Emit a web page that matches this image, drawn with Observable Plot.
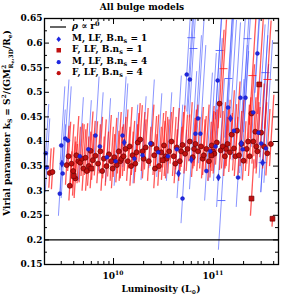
<!DOCTYPE html>
<html><head><meta charset="utf-8">
<script src="https://cdn.jsdelivr.net/npm/d3@7"></script>
<script src="https://cdn.jsdelivr.net/npm/@observablehq/plot@0.6"></script>
<style>
body{margin:0;background:#fff;}
#wrap{position:relative;width:283px;height:296px;font-family:"DejaVu Serif",serif;font-weight:bold;}
#legend{position:absolute;left:47px;top:21px;font-size:9px;line-height:11.6px;color:#000;}
#legend .row{position:relative;height:11.6px;white-space:nowrap;}
#legend .sym{position:absolute;left:0;top:0;width:22px;height:11.6px;}
#legend .txt{position:absolute;left:25px;top:0;}
#legend sub{font-size:6.5px;vertical-align:-1.5px;line-height:0;}
#legend sup{font-size:6.5px;vertical-align:3px;line-height:0;}
</style></head><body><div id="wrap"></div>
<script>
// Luminosity in units of 1e9 L_sun, virial parameter k, lower extent, upper extent
const redN4 = [
[2.3,0.336,0.03,0.05],[2.45,0.338,0.035,0.05],
[3.4,0.352,0.04,0.08],[3.55,0.37,0.03,0.07],[3.65,0.31,0.03,0.07],[3.8,0.355,0.045,0.08],[3.95,0.34,0.035,0.07],[4.15,0.325,0.04,0.07],[4.25,0.372,0.04,0.08],[4.45,0.36,0.045,0.07],[4.65,0.357,0.04,0.08],[4.85,0.365,0.035,0.07],[5.0,0.345,0.045,0.08],[5.25,0.367,0.035,0.07],[5.4,0.34,0.04,0.07],[5.65,0.35,0.04,0.07],[5.9,0.381,0.045,0.08],[6.2,0.362,0.04,0.08],[6.6,0.371,0.04,0.07],[7.0,0.355,0.04,0.08],[7.4,0.38,0.045,0.07],[7.7,0.34,0.04,0.07],
[8.0,0.365,0.04,0.08],[8.5,0.35,0.04,0.07],[9.0,0.374,0.045,0.08],[9.5,0.36,0.04,0.07],[9.8,0.345,0.04,0.07],[10.2,0.368,0.04,0.08],[10.8,0.352,0.035,0.07],[11.3,0.38,0.045,0.08],[11.7,0.36,0.04,0.07],[12.0,0.365,0.04,0.07],[12.6,0.37,0.04,0.08],[13.2,0.385,0.045,0.08],[13.9,0.36,0.04,0.07],[14.5,0.39,0.045,0.08],[15.0,0.35,0.04,0.07],[15.5,0.372,0.04,0.07],[16.5,0.355,0.04,0.08],[17.0,0.378,0.04,0.08],[17.5,0.398,0.045,0.08],[18.5,0.404,0.045,0.07],[19.5,0.38,0.04,0.08],
[20,0.365,0.04,0.08],[21,0.388,0.045,0.08],[22.5,0.36,0.04,0.07],[24,0.395,0.045,0.08],[25.5,0.372,0.04,0.08],[26,0.345,0.04,0.07],[27,0.385,0.045,0.07],[28.5,0.35,0.04,0.08],[30,0.378,0.04,0.08],[32,0.392,0.045,0.07],[33,0.37,0.04,0.08],[34,0.365,0.04,0.08],[36,0.38,0.045,0.08],[38,0.4,0.045,0.07],[40,0.37,0.04,0.08],[41.5,0.355,0.04,0.07],[43,0.388,0.045,0.08],[46,0.36,0.04,0.07],[47.5,0.38,0.04,0.08],[49,0.393,0.045,0.08],[52,0.375,0.04,0.08],[55,0.385,0.045,0.07],[58,0.4,0.04,0.08],
[62,0.368,0.04,0.08],[64,0.385,0.04,0.08],[66,0.395,0.045,0.08],[70,0.38,0.04,0.07],[75,0.39,0.045,0.08],[78,0.365,0.04,0.08],[80,0.372,0.04,0.08],[85,0.385,0.045,0.09],[90,0.36,0.04,0.08],[96,0.392,0.045,0.08],[99,0.38,0.04,0.08],[102,0.375,0.04,0.09],[108,0.398,0.045,0.08],[115,0.477,0.05,0.15],[118,0.382,0.04,0.08],[124,0.39,0.045,0.09],[130,0.37,0.04,0.08],[134,0.385,0.04,0.08],[138,0.395,0.045,0.09],[146,0.378,0.04,0.08],[152,0.414,0.05,0.09],[160,0.386,0.045,0.09],[166,0.37,0.04,0.08],[172,0.422,0.05,0.1],[180,0.372,0.04,0.09],[190,0.395,0.045,0.09],[200,0.361,0.04,0.08],
[215,0.385,0.045,0.09],[222,0.4,0.045,0.09],[230,0.37,0.04,0.09],[240,0.457,0.05,0.1],[250,0.4,0.045,0.09],[262,0.42,0.05,0.1],[268,0.39,0.045,0.09],[275,0.38,0.045,0.09],[300,0.418,0.05,0.1],[320,0.39,0.045,0.09],[345,0.376,0.045,0.09],[375,0.395,0.045,0.1]
];
const redN1 = [
[287,0.516,0.06,0.16],[240,0.284,0.035,0.08],[389,0.243,0.016,0.006],[4.0,0.33,0.04,0.07],[6.0,0.345,0.04,0.07],[31,0.362,0.04,0.08],[95,0.372,0.045,0.09]
];
const blueN4 = [
[2.1,0.376,0.05,0.1],[2.15,0.347,0.05,0.1],[2.9,0.294,0.045,0.1],[3.0,0.392,0.05,0.12],[3.1,0.335,0.05,0.1],[3.3,0.406,0.05,0.12],[3.5,0.402,0.05,0.11],
[4.6,0.37,0.05,0.12],[5.6,0.384,0.05,0.1],[6.6,0.412,0.05,0.12],[7.3,0.39,0.05,0.11],[8.6,0.368,0.05,0.12],[10.5,0.36,0.05,0.1],[12.3,0.412,0.05,0.12],[16.2,0.365,0.05,0.11],[19.5,0.372,0.05,0.12],[23.4,0.396,0.05,0.13],[28,0.378,0.05,0.12],[35,0.37,0.05,0.13],[43,0.384,0.05,0.15],[49,0.284,0.05,0.14],[54,0.536,0.07,0.2],[58,0.526,0.07,0.2],[66,0.416,0.06,0.2],[70,0.447,0.06,0.22],[74,0.416,0.06,0.18],[85,0.34,0.06,0.2],[93,0.38,0.06,0.2],[105,0.39,0.07,0.22],[110,0.524,0.07,0.2],[140,0.469,0.07,0.25],[160,0.422,0.06,0.22],[176,0.327,0.06,0.2],[186,0.489,0.07,0.22],[196,0.384,0.06,0.2],[209,0.489,0.07,0.22],[250,0.459,0.07,0.25],[275,0.579,0.08,0.2],[282,0.418,0.07,0.22],[300,0.396,0.07,0.22],[335,0.386,0.07,0.22]
];
const blueN1 = [
[3.05,0.355,0.06,0.11],[12.8,0.398,0.05,0.12],[44.7,0.335,0.05,0.14],[60,0.363,0.06,0.18],[112,0.327,0.06,0.2],[148,0.447,0.06,0.2],[190,0.396,0.06,0.2],[310,0.357,0.06,0.2]
];
// error bars whose points carry a horizontal cross bar
const blueCross = [
[60,0.611,0.15,0.1],[63,0.589,0.14,0.1],[115,0.585,0.14,0.1],[141,0.528,0.12,0.15],[219,0.609,0.15,0.1],[331,0.54,0.12,0.15],[120,0.28,0.1,0.4],[310,0.357,0.06,0.2]
];
const redCross = [[126,0.548,0.1,0.1],[245,0.534,0.1,0.12],[347,0.526,0.1,0.12]];

const yMajor = [0.15,0.2,0.25,0.3,0.35,0.4,0.45,0.5,0.55,0.6,0.65];
const yMinor = [0.175,0.225,0.275,0.325,0.375,0.425,0.475,0.525,0.575,0.625];
const xMajor = [1e10,1e11];
const xMinor = [3e9,4e9,5e9,6e9,7e9,8e9,9e9,2e10,3e10,4e10,5e10,6e10,7e10,8e10,9e10,2e11,3e11,4e11];
const xTickBase = ["10","10"], xTickExp = ["10","11"];
const xDomain = [2.04e9,4.47e11], yDomain = [0.15,0.65];

const T = 0.3;      // tilt of correlated error bars (decades per unit k)
const XW = 0.04;    // half width of cross bars (decades)
const PX = 0.01, PY = 0.5/246; // one pixel in data units
const seg = a => a.map(([L,k,lo,hi]) => ({x1:L*1e9/10**(T*lo), y1:k-lo, x2:L*1e9*10**(T*hi), y2:k+hi}));
const pt = a => a.map(([L,k]) => ({x:L*1e9, y:k}));
const cross = a => a.map(([L,k]) => ({x1:L*1e9/10**XW, x2:L*1e9*10**XW, y:k}));

const blueBar = "#3b4cff", redBar = "#ff1010";
const plot = Plot.plot({
  width:283, height:296, marginTop:18, marginBottom:32, marginLeft:44, marginRight:5,
  x:{type:"log", domain:xDomain, label:null, axis:null},
  y:{domain:yDomain, label:null},
  style:{fontFamily:"DejaVu Serif", fontWeight:"bold", fontSize:"9px", background:"white"},
  marks:[
    Plot.link(seg([...blueN4,...blueN1,...blueCross]), {x1:"x1",y1:"y1",x2:"x2",y2:"y2", stroke:blueBar, strokeOpacity:0.6, strokeWidth:1, clip:true}),
    Plot.link(cross(blueCross), {x1:"x1",x2:"x2",y1:"y",y2:"y", stroke:blueBar, strokeOpacity:0.8, strokeWidth:1, clip:true}),
    Plot.link(seg([...redN4,...redN1,...redCross]), {x1:"x1",y1:"y1",x2:"x2",y2:"y2", stroke:redBar, strokeOpacity:0.7, strokeWidth:1.3, clip:true}),
    Plot.link(cross(redCross), {x1:"x1",x2:"x2",y1:"y",y2:"y", stroke:redBar, strokeOpacity:0.8, strokeWidth:1, clip:true}),
    Plot.ruleY([0.2], {stroke:"black", strokeWidth:1.2}),
    Plot.dot(pt(redN4), {x:"x", y:"y", r:2.5, fill:"#c01010", stroke:"#6a0000", strokeWidth:0.7}),
    Plot.dot(pt(redN1), {x:"x", y:"y", r:2.7, symbol:"square", fill:"#c01010", stroke:"#6a0000", strokeWidth:0.7}),
    Plot.dot(pt(blueN4), {x:"x", y:"y", r:2.0, fill:"#1f28e0", stroke:"#1010b0", strokeWidth:0.4}),
    Plot.dot(pt(blueN1), {x:"x", y:"y", r:2.2, symbol:"diamond", fill:"#1f28e0", stroke:"#1010b0", strokeWidth:0.4}),
    // inward ticks on all four sides
    Plot.ruleX(xMajor, {y1:yDomain[0], y2:yDomain[0]+6*PY, stroke:"black"}),
    Plot.ruleX(xMajor, {y1:yDomain[1], y2:yDomain[1]-6*PY, stroke:"black"}),
    Plot.ruleX(xMinor, {y1:yDomain[0], y2:yDomain[0]+3*PY, stroke:"black"}),
    Plot.ruleX(xMinor, {y1:yDomain[1], y2:yDomain[1]-3*PY, stroke:"black"}),
    Plot.ruleY(yMajor, {x1:xDomain[0], x2:xDomain[0]*10**(5*PX), stroke:"black"}),
    Plot.ruleY(yMajor, {x1:xDomain[1], x2:xDomain[1]/10**(5*PX), stroke:"black"}),
    Plot.ruleY(yMinor, {x1:xDomain[0], x2:xDomain[0]*10**(3*PX), stroke:"black"}),
    Plot.ruleY(yMinor, {x1:xDomain[1], x2:xDomain[1]/10**(3*PX), stroke:"black"}),
    Plot.frame({stroke:"black", strokeWidth:1.3}),
    Plot.axisY({ticks:yMajor, tickSize:0, tickPadding:2, tickFormat:d => String(+d.toFixed(2)), label:null})
  ]
});
const wrap = document.getElementById("wrap");
wrap.appendChild(plot);
const svg = d3.select(plot);
const xs = plot.scale("x");
xMajor.forEach((v, i) => {
  const t = svg.append("text").attr("x", xs.apply(v)).attr("y", 279).attr("text-anchor","middle")
    .attr("font-size", 9).attr("font-weight","bold");
  t.append("tspan").text(xTickBase[i]);
  t.append("tspan").attr("font-size", 6).attr("dy", -4).text(xTickExp[i]);
});
svg.append("text").attr("x",142).attr("y",10).attr("text-anchor","middle")
  .attr("font-size",9).attr("font-weight","bold").text("All bulge models");
const xl = svg.append("text").attr("x",161).attr("y",292).attr("text-anchor","middle")
  .attr("font-size",9).attr("font-weight","bold");
xl.append("tspan").text("Luminosity (L");
xl.append("tspan").attr("font-size",6).attr("dy",2).text("⊙");
xl.append("tspan").attr("dy",-2).text(")");
const yl = svg.append("text").attr("transform","translate(10,123) rotate(-90)").attr("text-anchor","middle")
  .attr("font-size",9).attr("font-weight","bold");
yl.append("tspan").text("Virial parameter k");
yl.append("tspan").attr("font-size",6).attr("dy",2).text("S");
yl.append("tspan").attr("dy",-2).text(" = S");
yl.append("tspan").attr("font-size",6).attr("dy",-4).text("2");
yl.append("tspan").attr("dy",4).text("/(GM");
yl.append("tspan").attr("font-size",6).attr("dy",-4).text("2");
yl.append("tspan").attr("font-size",6).attr("dx",-3.5).attr("dy",7).text("R");
yl.append("tspan").attr("font-size",4.5).attr("dy",1).text("e");
yl.append("tspan").attr("font-size",6).attr("dy",-1).text(",3D");
yl.append("tspan").attr("dy",-3).text("/R");
yl.append("tspan").attr("font-size",6).attr("dy",2).text("e");
yl.append("tspan").attr("dy",-2).text(")");

// legend
const legendRows = [
  {sym:"line", html:"<i>ρ</i> ∝ r<sup>0</sup>"},
  {sym:"diamond", color:"#1f28e0", html:"M, LF, B.n<sub>s</sub> = 1"},
  {sym:"square", color:"#c01010", html:"F, LF, B.n<sub>s</sub> = 1"},
  {sym:"circle", color:"#1f28e0", html:"M, LF, B.n<sub>s</sub> = 4"},
  {sym:"circle", color:"#c01010", html:"F, LF, B.n<sub>s</sub> = 4"}
];
const lg = document.createElement("div"); lg.id = "legend";
for (const r of legendRows) {
  const row = document.createElement("div"); row.className = "row";
  let s;
  if (r.sym === "line") s = `<svg class="sym" width="22" height="12"><line x1="3" x2="19" y1="6" y2="6" stroke="black" stroke-width="1.2"/></svg>`;
  else if (r.sym === "square") s = `<svg class="sym" width="22" height="12"><rect x="9.5" y="4" width="4.5" height="4.5" fill="${r.color}"/></svg>`;
  else if (r.sym === "diamond") s = `<svg class="sym" width="22" height="12"><path d="M11.7,3.5L14,6.2L11.7,8.9L9.4,6.2Z" fill="${r.color}"/></svg>`;
  else s = `<svg class="sym" width="22" height="12"><circle cx="11.7" cy="6.2" r="2.1" fill="${r.color}"/></svg>`;
  row.innerHTML = s + `<span class="txt">${r.html}</span>`;
  lg.appendChild(row);
}
wrap.appendChild(lg);
</script></body></html>
